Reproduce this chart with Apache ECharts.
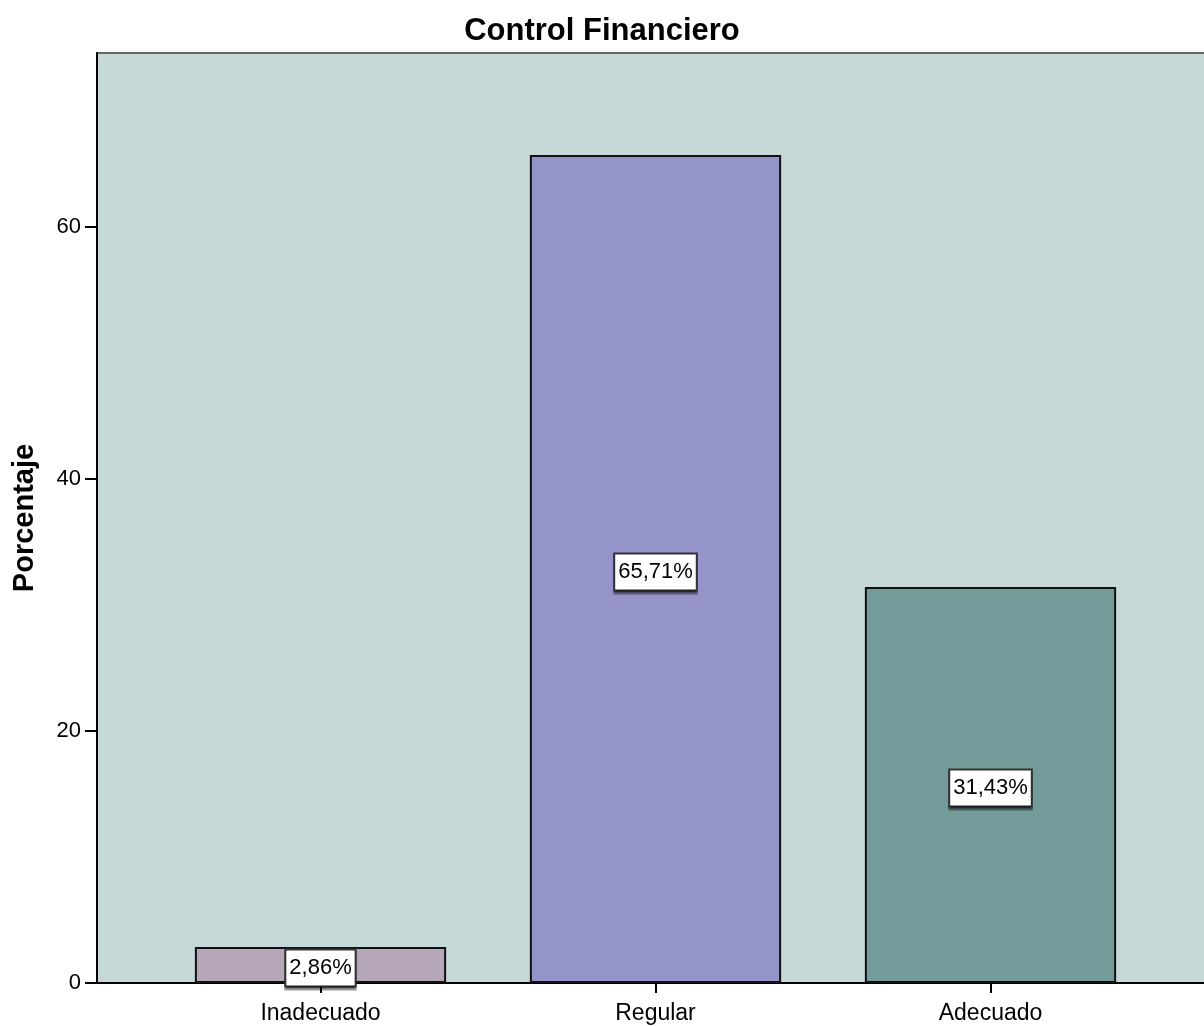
<!DOCTYPE html>
<html>
<head>
<meta charset="utf-8">
<script src="https://cdn.jsdelivr.net/npm/echarts@6/dist/echarts.min.js"></script>
<style>
html,body{margin:0;padding:0;background:#fff;}
#c{width:1204px;height:1026px;}
</style>
</head>
<body>
<div id="c"></div>
<script>
var categories = ['Inadecuado', 'Regular', 'Adecuado'];
var values = [2.86, 65.71, 31.43];
var barColors = ['#b5a7b9', '#9494c8', '#729b99'];
var yTicks = [0, 20, 40, 60];
var yMax = 73.8;

var FONT = '"Liberation Sans",Arial,Helvetica,sans-serif';

var chart = echarts.init(document.getElementById('c'));
chart.setOption({
  animation: false,
  backgroundColor: '#ffffff',
  title: {
    text: 'Control Financiero',
    left: 'center',
    top: 11,
    textStyle: {fontFamily: FONT, fontWeight: 'bold', fontSize: 31, color: '#000'}
  },
  grid: [
    {left: 97, top: 53, width: 1116, bottom: 43, outerBoundsMode: 'none', containLabel: false,
     show: true, backgroundColor: '#c7d8d8', borderColor: '#666666', borderWidth: 2},
    {left: 153, top: 53, width: 1005, bottom: 43, outerBoundsMode: 'none', containLabel: false}
  ],
  xAxis: [
    {gridIndex: 0, type: 'value', min: 0, max: 1,
     axisLine: {show: true, lineStyle: {color: '#000', width: 2}},
     axisTick: {show: false}, axisLabel: {show: false}, splitLine: {show: false}},
    {gridIndex: 1, type: 'category', data: categories,
     axisLine: {show: false},
     axisTick: {show: true, alignWithLabel: true, length: 10, lineStyle: {color: '#000', width: 2}},
     axisLabel: {fontFamily: FONT, fontSize: 23, color: '#000', margin: 19}}
  ],
  yAxis: [
    {gridIndex: 0, type: 'value', min: 0, max: yMax,
     name: 'Porcentaje', nameLocation: 'middle', nameGap: 58, nameRotate: 90,
     nameTextStyle: {fontFamily: FONT, fontWeight: 'bold', fontSize: 29, color: '#000'},
     axisLine: {show: true, lineStyle: {color: '#000', width: 2}},
     axisTick: {show: true, customValues: yTicks, length: 12, lineStyle: {color: '#000', width: 2}},
     axisLabel: {customValues: yTicks, fontFamily: FONT, fontSize: 22, color: '#000', margin: 16},
     splitLine: {show: false}},
    {gridIndex: 1, type: 'value', min: 0, max: yMax, show: false, splitLine: {show: false}}
  ],
  series: [{
    type: 'bar',
    xAxisIndex: 1,
    yAxisIndex: 1,
    barWidth: '75%',
    data: values.map(function (v, i) {
      return {value: v, itemStyle: {color: barColors[i]}};
    }),
    itemStyle: {borderColor: '#111', borderWidth: 2},
    label: {
      show: true,
      position: 'inside',
      offset: [0, 3],
      formatter: function (p) { return p.value.toFixed(2).replace('.', ',') + '%'; },
      fontFamily: FONT,
      fontSize: 22,
      color: '#000',
      backgroundColor: '#ffffff',
      borderColor: '#333',
      borderWidth: 2,
      padding: [7, 3, 6, 3],
      shadowColor: 'rgba(0,0,0,0.4)',
      shadowOffsetX: 0,
      shadowOffsetY: 3,
      shadowBlur: 0
    }
  }]
});
</script>
</body>
</html>
